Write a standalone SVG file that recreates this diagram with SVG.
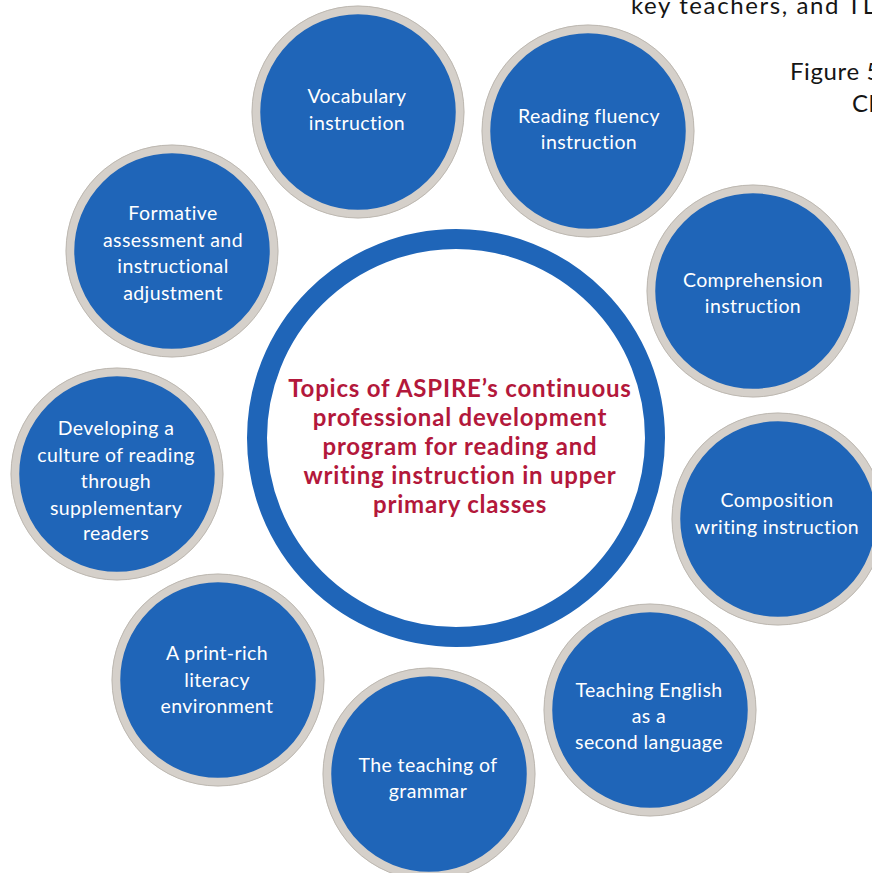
<svg xmlns="http://www.w3.org/2000/svg" width="872" height="873" viewBox="0 0 872 873">
  <defs>
    <style>
      .bg { fill: #ffffff; }
      .topic-disc { fill: #1f65b8; stroke: #d5d0ca; stroke-width: 8.5; }
      .topic-edge { fill: none; stroke: #bdb8b1; stroke-width: 1; }
      .topic-label { font-family: Lato, "Open Sans", "Liberation Sans", sans-serif; font-size: 19.5px; letter-spacing: 0.4px; fill: #ffffff; text-anchor: middle; }
      .hub-ring { fill: #ffffff; stroke: #1f65b8; stroke-width: 20; }
      .hub-label { font-family: Lato, "Liberation Sans", sans-serif; font-weight: 700; font-size: 24px; letter-spacing: 0.8px; fill: #b3183b; text-anchor: middle; }
      .page-text { font-family: Lato, "Liberation Sans", sans-serif; font-size: 24px; letter-spacing: 0.6px; fill: #151515; }
    </style>
  </defs>

  <rect class="bg" x="0" y="0" width="872" height="873"/>

  <!-- surrounding page text -->
  <g id="page-text">
    <text class="page-text" x="631" y="14" style="letter-spacing: 1.6px">key teachers, and TL</text>
    <text class="page-text" x="790" y="80">Figure 5</text>
    <text class="page-text" x="852" y="112">Cl</text>
  </g>

  <!-- no connectors: topics are arranged around the hub -->
  <g id="connectors"/>

  <!-- central hub -->
  <g id="hub">
    <circle class="hub-ring" cx="456" cy="438" r="199"/>
    <text class="hub-label" x="460" y="397">Topics of ASPIRE’s continuous</text>
    <text class="hub-label" x="460" y="426">professional development</text>
    <text class="hub-label" x="460" y="455">program for reading and</text>
    <text class="hub-label" x="460" y="484">writing instruction in upper</text>
    <text class="hub-label" x="460" y="513">primary classes</text>
  </g>

  <g id="vocabulary">
    <circle class="topic-disc" cx="358" cy="112" r="102"/>
    <circle class="topic-edge" cx="358" cy="112" r="106"/>
    <text class="topic-label" x="357" y="103">Vocabulary</text>
    <text class="topic-label" x="357" y="130">instruction</text>
  </g>

  <g id="reading-fluency">
    <circle class="topic-disc" cx="588" cy="131" r="102"/>
    <circle class="topic-edge" cx="588" cy="131" r="106"/>
    <text class="topic-label" x="589" y="123">Reading fluency</text>
    <text class="topic-label" x="589" y="149">instruction</text>
  </g>

  <g id="comprehension">
    <circle class="topic-disc" cx="753" cy="291" r="102"/>
    <circle class="topic-edge" cx="753" cy="291" r="106"/>
    <text class="topic-label" x="753" y="287">Comprehension</text>
    <text class="topic-label" x="753" y="313">instruction</text>
  </g>

  <g id="composition">
    <circle class="topic-disc" cx="778" cy="519" r="102"/>
    <circle class="topic-edge" cx="778" cy="519" r="106"/>
    <text class="topic-label" x="777" y="507">Composition</text>
    <text class="topic-label" x="777" y="534">writing instruction</text>
  </g>

  <g id="esl">
    <circle class="topic-disc" cx="650" cy="710" r="102"/>
    <circle class="topic-edge" cx="650" cy="710" r="106"/>
    <text class="topic-label" x="649" y="697">Teaching English</text>
    <text class="topic-label" x="649" y="723">as a</text>
    <text class="topic-label" x="649" y="749">second language</text>
  </g>

  <g id="grammar">
    <circle class="topic-disc" cx="429" cy="774" r="102"/>
    <circle class="topic-edge" cx="429" cy="774" r="106"/>
    <text class="topic-label" x="428" y="772">The teaching of</text>
    <text class="topic-label" x="428" y="798">grammar</text>
  </g>

  <g id="print-rich">
    <circle class="topic-disc" cx="218" cy="680" r="102"/>
    <circle class="topic-edge" cx="218" cy="680" r="106"/>
    <text class="topic-label" x="217" y="660">A print-rich</text>
    <text class="topic-label" x="217" y="687">literacy</text>
    <text class="topic-label" x="217" y="713">environment</text>
  </g>

  <g id="reading-culture">
    <circle class="topic-disc" cx="117" cy="474" r="102"/>
    <circle class="topic-edge" cx="117" cy="474" r="106"/>
    <text class="topic-label" x="116" y="435">Developing a</text>
    <text class="topic-label" x="116" y="462">culture of reading</text>
    <text class="topic-label" x="116" y="488">through</text>
    <text class="topic-label" x="116" y="515">supplementary</text>
    <text class="topic-label" x="116" y="540">readers</text>
  </g>

  <g id="formative-assessment">
    <circle class="topic-disc" cx="172" cy="251" r="102"/>
    <circle class="topic-edge" cx="172" cy="251" r="106"/>
    <text class="topic-label" x="173" y="220">Formative</text>
    <text class="topic-label" x="173" y="247">assessment and</text>
    <text class="topic-label" x="173" y="273">instructional</text>
    <text class="topic-label" x="173" y="300">adjustment</text>
  </g>
</svg>
